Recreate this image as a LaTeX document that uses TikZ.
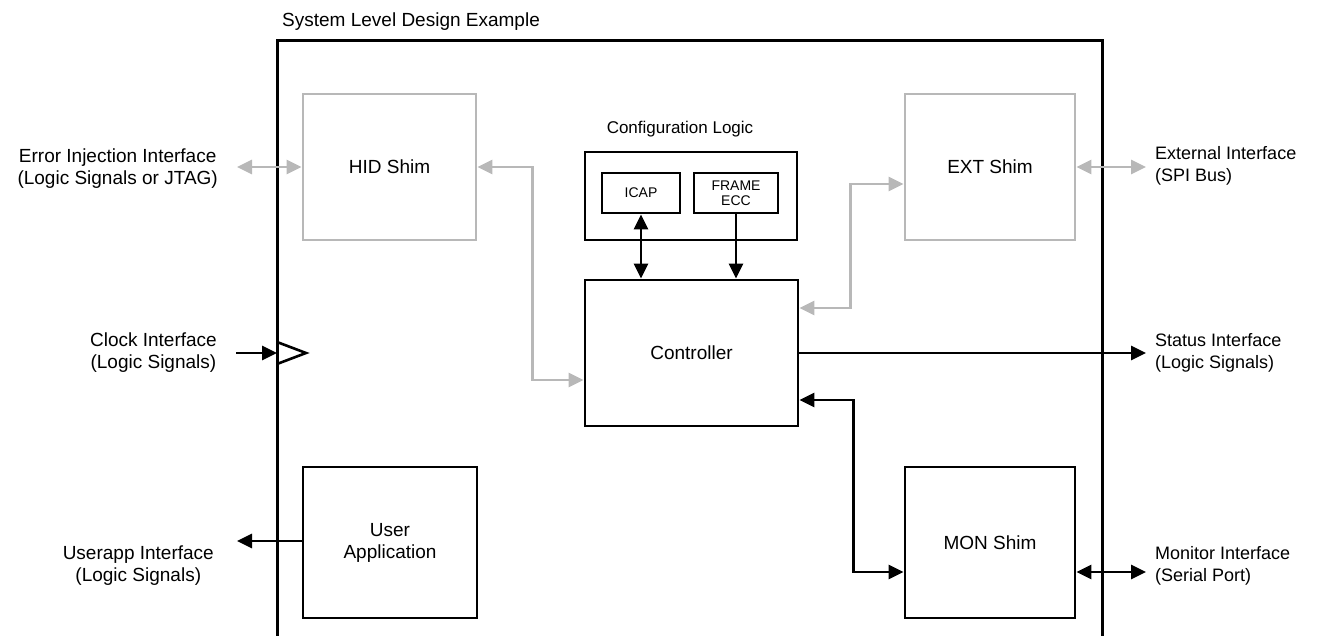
\documentclass[tikz,border=0pt]{standalone}
\usepackage{fontspec}
\setmainfont{Liberation Sans}
\usetikzlibrary{arrows.meta,calc}
\definecolor{lgray}{RGB}{184,184,184}
\tikzset{
  blk/.style={draw=black,line width=2.8pt,minimum width=#1,inner sep=0pt,align=center,font=\fontsize{19}{22}\selectfont},
  gbox/.style={draw=lgray,line width=2.8pt,inner sep=0pt,align=center,font=\fontsize{19}{22}\selectfont},
  lbl/.style={inner sep=0pt,align=center,font=\fontsize{19}{22}\selectfont},
  rlbl/.style={inner sep=0pt,align=left,anchor=west,font=\fontsize{18}{22}\selectfont},
  small/.style={draw=black,line width=2.8pt,inner sep=0pt,align=center,font=\fontsize{14}{15}\selectfont},
  tip/.tip={Triangle[length=15pt,width=14pt]},
  conn/.style={line width=2.8pt,draw=black},
  gconn/.style={line width=2.8pt,draw=lgray},
  one/.style={-tip},
  two/.style={tip-tip},
}
\begin{document}
\begin{tikzpicture}[x=1pt,y=-1pt]
\useasboundingbox (0,0) rectangle (1319,636);
% title and outer frame
\node[lbl,anchor=base west] (title) at (282,27) {System Level Design Example};
\draw[line width=3pt] (277,640) -- (277,41) -- (1102,41) -- (1102,640);
% boxes
\node[gbox,minimum width=173pt,minimum height=146pt] (hid) at (389.5,167) {HID Shim};
\node[gbox,minimum width=170pt,minimum height=146pt] (ext) at (990,167) {EXT Shim};
\node[blk=212pt,minimum height=88pt] (cfg) at (691,196) {};
\node[lbl,font=\fontsize{17}{20}\selectfont] (cfgl) at (680,129) {Configuration Logic};
\node[small,minimum width=78pt,minimum height=40pt] (icap) at (641,193) {ICAP};
\node[small,minimum width=84pt,minimum height=40pt] (frame) at (736,193) {FRAME\\ECC};
\node[blk=213pt,minimum height=146pt] (ctrl) at (691.5,353) {Controller};
\node[blk=174pt,minimum height=151pt] (user) at (390,542.5) {User\\Application};
\node[blk=170pt,minimum height=151pt] (mon) at (990,542.5) {MON Shim};
% clock triangle
\draw[line width=2.6pt,line join=miter] (277,342) -- (306,353) -- (277,364);
% outside labels
\node[lbl,anchor=east] (errl) at (218,169) {Error Injection Interface\\(Logic Signals or JTAG)};
\node[lbl,anchor=east] (clkl) at (217,353) {Clock Interface\\(Logic Signals)};
\node[lbl,anchor=east] (usrl) at (214,566) {Userapp Interface\\(Logic Signals)};
\node[rlbl] (extl) at (1155,166) {External Interface\\(SPI Bus)};
\node[rlbl] (statl) at (1155,353) {Status Interface\\(Logic Signals)};
\node[rlbl] (monl) at (1155,566) {Monitor Interface\\(Serial Port)};
% free ends
\coordinate (errp) at (237,167);
\coordinate (clkp) at (236,353);
\coordinate (clkin) at (277,353);
\coordinate (usrp) at (237,541);
\coordinate (extp) at (1146,167);
\coordinate (statp) at (1146,353);
\coordinate (monp) at (1146,572);
% connectors
\draw[gconn,two] (errp) -- (hid.west);
\draw[gconn,two] (hid.east) -- ++(55,0) |- ($(ctrl.west)+(0,27)$);
\draw[gconn,two] ($(ext.west)+(0,17)$) -- ++(-53,0) |- ($(ctrl.east)+(0,-45)$);
\draw[gconn,two] (ext.east) -- (extp);
\draw[conn,two] (icap.south) -- (icap.south |- ctrl.north);
\draw[conn,one] (frame.south) -- (frame.south |- ctrl.north);
\draw[conn,one] (ctrl.east) -- (statp);
\draw[conn,two] ($(ctrl.east)+(0,47)$) -- ++(54,0) |- ($(mon.west)+(0,29.5)$);
\draw[conn,two] ($(mon.east)+(0,29.5)$) -- (monp);
\draw[conn,one] ($(user.west)+(0,-1.5)$) -- (usrp);
\draw[conn,one] (clkp) -- (clkin);
\end{tikzpicture}
\end{document}
